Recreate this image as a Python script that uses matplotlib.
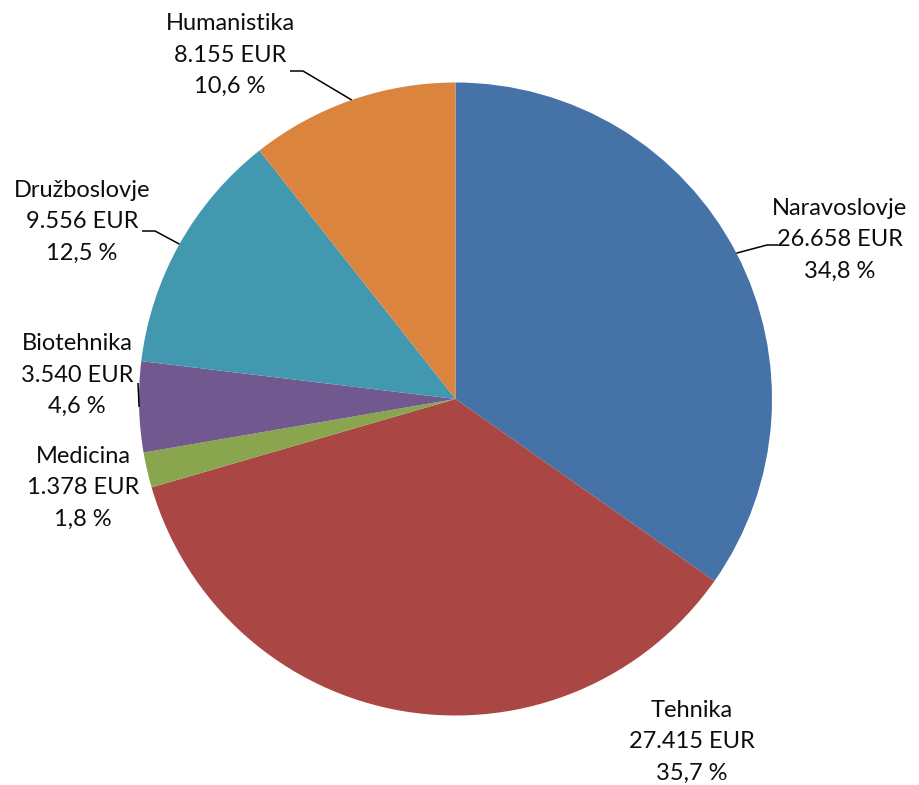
import numpy as np
import matplotlib
matplotlib.use("Agg")
import matplotlib.pyplot as plt

# data (clockwise from 12 o'clock)
categories = ["Naravoslovje", "Tehnika", "Medicina", "Biotehnika", "Družboslovje", "Humanistika"]
amounts = [26658, 27415, 1378, 3540, 9556, 8155]
amount_labels = ["26.658 EUR", "27.415 EUR", "1.378 EUR", "3.540 EUR", "9.556 EUR", "8.155 EUR"]
pct_labels = ["34,8 %", "35,7 %", "1,8 %", "4,6 %", "12,5 %", "10,6 %"]
colors = ["#4572A7", "#AA4643", "#89A54E", "#71588F", "#4198AF", "#DB843D"]

W, H = 919, 785
fig = plt.figure(figsize=(W / 100, H / 100), dpi=100)
ax = fig.add_axes([0, 0, 1, 1])

cx, cy, r = 455.5, H - 399, 316.5
wedges, _ = ax.pie(amounts, colors=colors, startangle=90, counterclock=False,
                   center=(cx, cy), radius=r, frame=True,
                   wedgeprops=dict(linewidth=0))
ax.set_xlim(0, W)
ax.set_ylim(0, H)
ax.set_aspect("equal")
ax.axis("off")

# label centres in pixel coords (from top-left)
label_pos = [(840, 240), (692, 742), (83, 488), (77, 375), (82, 222), (230, 55)]
for i, (x, y) in enumerate(label_pos):
    ax.text(x, H - y, f"{categories[i]}\n{amount_labels[i]}\n{pct_labels[i]}",
            ha="center", va="center", fontsize=17, family="Lato",
            linespacing=1.62, color="#0d0d0d")


def edge_point(w):
    a = np.deg2rad((w.theta1 + w.theta2) / 2)
    return cx + r * np.cos(a), cy + r * np.sin(a)


# leader lines: (wedge index, elbow points from text side)
leaders = {
    0: [(767, 245), (778, 245)],
    5: [(303, 71), (290, 71)],
    4: [(155, 231), (142, 231)],
    3: [(138, 383)],
}
for i, pts in leaders.items():
    ex, ey = edge_point(wedges[i])
    xs = [ex] + [p[0] for p in pts]
    ys = [ey] + [H - p[1] for p in pts]
    ax.plot(xs, ys, color="black", lw=1.1, solid_capstyle="butt")

fig.savefig("out.png", dpi=100)
